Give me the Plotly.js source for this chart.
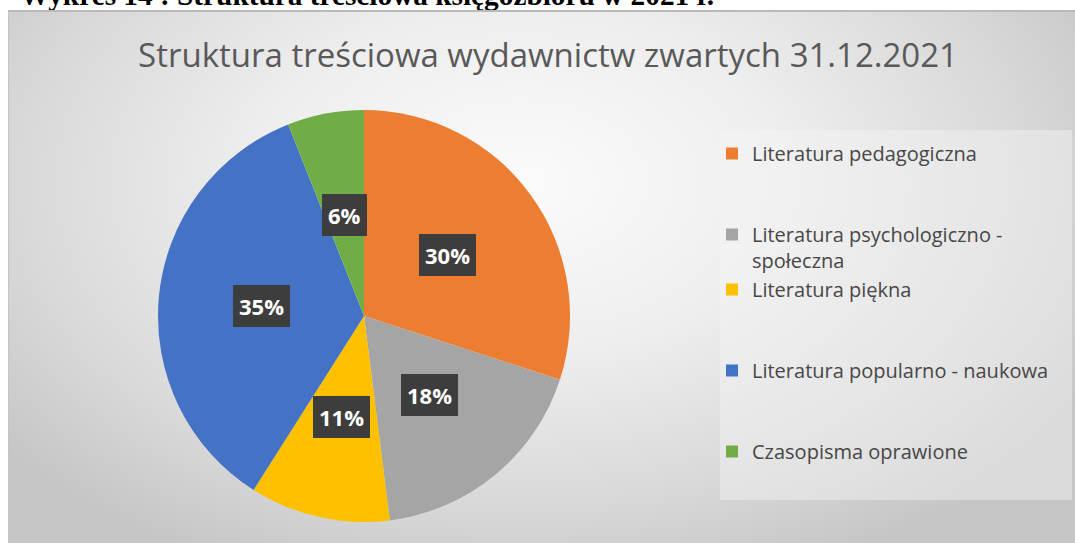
<!DOCTYPE html>
<html>
<head>
<meta charset="utf-8">
<script src="https://cdn.plot.ly/plotly-3.0.1.min.js"></script>
<style>
html,body{margin:0;padding:0;width:1075px;height:543px;overflow:hidden;background:#ffffff;}
#caption{position:absolute;left:20px;top:-19px;font-family:"Liberation Serif","Times New Roman",serif;font-weight:bold;font-size:29.3px;line-height:29px;color:#000;white-space:nowrap;}
#bg{position:absolute;left:8px;top:10px;width:1067px;height:533px;box-sizing:border-box;border-top:2px solid #b9b9b9;border-left:1px solid #c4c4c4;
background:radial-gradient(ellipse 62% 80% at 48% 32%, #fbfbfb 0%, #eeeeee 40%, #d9d9d9 75%, #c6c6c6 100%);}
#chart{position:absolute;left:0;top:0;width:1075px;height:543px;}
</style>
</head>
<body>
<div id="caption">Wykres 14 : Struktura treściowa księgozbioru w 2021 r.</div>
<div id="bg"></div>
<div id="chart"></div>
<script>
const chartTitle = 'Struktura treściowa wydawnictw zwartych 31.12.2021';
const categories = [
  'Literatura pedagogiczna',
  'Literatura psychologiczno -<br>społeczna',
  'Literatura piękna',
  'Literatura popularno - naukowa',
  'Czasopisma oprawione'
];
const shares = [30, 18, 11, 35, 6];
const sliceColors = ['#ED7D31', '#A5A5A5', '#FFC000', '#4472C4', '#70AD47'];

const W = 1075, H = 543;
const dom = {x: [158 / W, 570 / W], y: [1 - 522 / H, 1 - 110 / H]};

// legend spacing: pad entries with empty lines so they spread out like the original legend
const legendPad = ['<br>&nbsp;<br>&nbsp;', '', '<br>&nbsp;<br>&nbsp;', '<br>&nbsp;<br>&nbsp;', ''];
const legendLabels = categories.map((c, i) => c + legendPad[i]);

// label boxes placed at half radius along each slice bisector (computed from the data)
const total = shares.reduce((a, b) => a + b, 0);
const rPx = Math.min((dom.x[1] - dom.x[0]) * W, (dom.y[1] - dom.y[0]) * H) / 2;
const cxPx = (dom.x[0] + dom.x[1]) / 2 * W;
const cyPx = (1 - (dom.y[0] + dom.y[1]) / 2) * H;
let cum = 0;
const annotations = shares.map((v) => {
  const mid = (cum + v / 2) / total * 2 * Math.PI;
  cum += v;
  const px = cxPx + 0.5 * rPx * Math.sin(mid);
  const py = cyPx - 0.5 * rPx * Math.cos(mid);
  return {
    x: px / W, y: 1 - py / H, xref: 'paper', yref: 'paper',
    text: Math.round(v / total * 100) + '%',
    showarrow: false,
    font: {family: 'Open Sans, sans-serif', size: 22, color: '#ffffff', weight: 'bold'},
    bgcolor: '#3d3d3d', borderpad: 6, borderwidth: 0,
    xanchor: 'center', yanchor: 'middle'
  };
});

const data = [{
  type: 'pie',
  labels: legendLabels,
  values: shares,
  sort: false,
  direction: 'clockwise',
  rotation: 0,
  marker: {colors: sliceColors, line: {width: 0}},
  textinfo: 'none',
  hoverinfo: 'label+percent',
  domain: dom
}];

const layout = {
  width: W, height: H,
  margin: {l: 0, r: 0, t: 0, b: 0},
  paper_bgcolor: 'rgba(0,0,0,0)',
  plot_bgcolor: 'rgba(0,0,0,0)',
  title: {
    text: chartTitle,
    font: {family: 'Open Sans, sans-serif', size: 33, color: '#595959'},
    x: 548 / W, xanchor: 'center', xref: 'paper',
    y: 1 - 55 / H, yanchor: 'middle', yref: 'container'
  },
  showlegend: true,
  legend: {
    x: 712 / W, xanchor: 'left',
    y: 1 - 134 / H, yanchor: 'top',
    bgcolor: 'rgba(0,0,0,0)',
    font: {family: 'Open Sans, sans-serif', size: 20, color: '#474747'},
    valign: 'top'
  },
  shapes: [{
    type: 'rect', xref: 'paper', yref: 'paper',
    x0: 720 / W, x1: 1072 / W, y0: 1 - 500 / H, y1: 1 - 130 / H,
    fillcolor: 'rgba(245,245,245,0.45)', line: {width: 0}, layer: 'below'
  }],
  annotations: annotations
};

Plotly.newPlot('chart', data, layout, {displayModeBar: false, staticPlot: true});
</script>
</body>
</html>
